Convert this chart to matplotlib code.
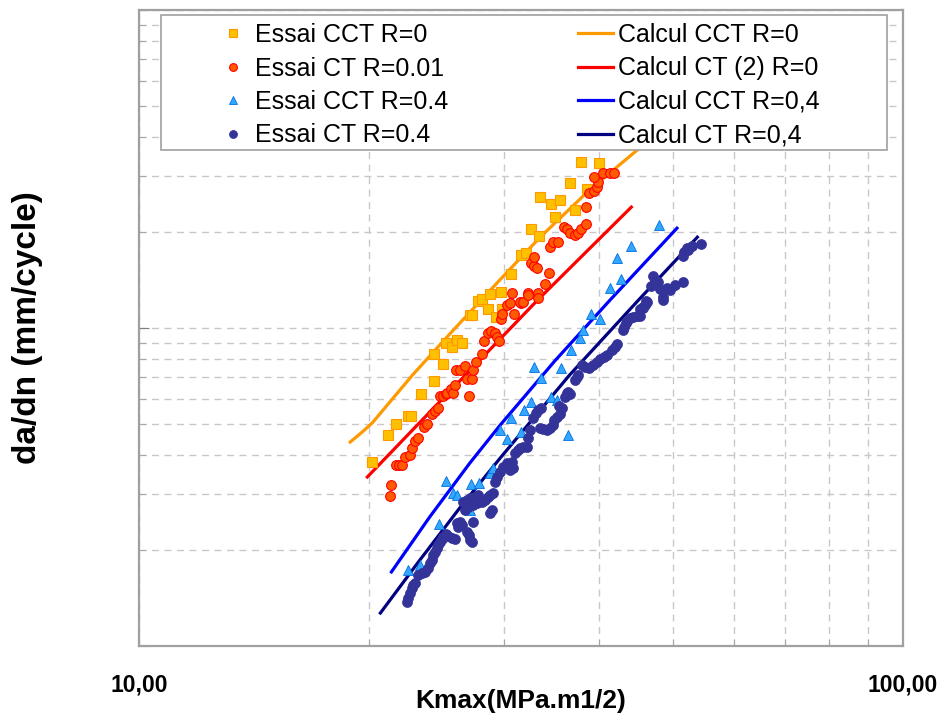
import matplotlib
matplotlib.use("Agg")
import matplotlib.pyplot as plt
from matplotlib.patches import Rectangle
from matplotlib.ticker import LogLocator, NullFormatter

plt.rcParams['font.family'] = ['Liberation Sans', 'DejaVu Sans']

# Essai CCT R=0 (Kmax MPa.m1/2, da/dn mm/cycle)
k_cct0 = [20.2, 21.2, 21.7, 22.5, 22.7, 23.4, 24.3, 25.0, 24.3, 25.2, 25.7, 26.1,
          26.5, 27.1, 27.3, 27.8, 28.1, 28.6, 28.8, 29.3, 29.8, 29.9, 30.7, 31.6,
          32.1, 32.6, 33.4, 33.5, 34.6, 35.0, 35.6, 36.7, 37.2, 37.9, 38.6, 40.0]
v_cct0 = [3.8e-5, 4.6e-5, 5.0e-5, 5.3e-5, 5.3e-5, 6.2e-5, 6.8e-5, 7.7e-5, 8.3e-5,
          9.0e-5, 8.7e-5, 9.2e-5, 9.0e-5, 1.1e-4, 1.1e-4, 1.22e-4, 1.23e-4, 1.15e-4,
          1.28e-4, 1.08e-4, 1.3e-4, 1.15e-4, 1.48e-4, 1.7e-4, 1.72e-4, 2.05e-4,
          1.94e-4, 2.58e-4, 2.45e-4, 2.24e-4, 2.53e-4, 2.86e-4, 2.35e-4, 3.33e-4,
          2.73e-4, 3.3e-4]

# Essai CT R=0.01
k_ct0 = [21.3, 21.4, 21.7, 21.9, 22.1, 22.3, 22.6, 22.8, 23.0, 23.2, 23.6, 23.8,
         24.2, 24.4, 24.6, 24.8, 25.0, 25.2, 25.3, 25.6, 25.8, 25.9, 27.0, 26.9,
         27.3, 26.0, 26.3, 26.7, 27.4, 27.6, 28.1, 28.3, 28.6, 28.9, 29.2, 29.4,
         29.6, 29.8, 29.9, 31.0, 30.3, 30.6, 31.6, 30.8, 31.5, 31.8, 32.3, 32.3,
         33.3, 33.3, 34.0, 34.4, 32.6, 32.9, 33.2, 32.9, 34.5, 34.8, 35.4, 36.0,
         36.3, 36.7, 37.2, 37.5, 37.9, 38.5, 38.5, 38.8, 39.4, 39.8, 39.9, 39.4,
         40.5, 41.4, 41.8]
v_ct0 = [2.96e-5, 3.21e-5, 3.71e-5, 3.71e-5, 3.71e-5, 3.94e-5, 4.0e-5, 4.2e-5,
         4.4e-5, 4.5e-5, 4.9e-5, 5.0e-5, 5.35e-5, 5.5e-5, 5.6e-5, 6.1e-5, 6.1e-5,
         6.2e-5, 6.25e-5, 6.45e-5, 6.25e-5, 6.6e-5, 6.1e-5, 6.9e-5, 6.9e-5, 7.4e-5,
         7.4e-5, 7.6e-5, 7.4e-5, 7.8e-5, 8.3e-5, 9.1e-5, 9.65e-5, 9.8e-5, 9.65e-5,
         9.4e-5, 9.1e-5, 1.07e-4, 1.11e-4, 1.11e-4, 1.18e-4, 1.2e-4, 1.2e-4,
         1.29e-4, 1.21e-4, 1.21e-4, 1.29e-4, 1.27e-4, 1.29e-4, 1.24e-4, 1.38e-4,
         1.49e-4, 1.6e-4, 1.57e-4, 1.54e-4, 1.67e-4, 1.8e-4, 1.87e-4, 1.87e-4,
         2.08e-4, 2.05e-4, 1.99e-4, 1.96e-4, 1.99e-4, 2.05e-4, 2.13e-4, 2.4e-4,
         2.66e-4, 2.7e-4, 2.77e-4, 2.87e-4, 2.98e-4, 3.07e-4, 3.07e-4, 3.07e-4]

# Essai CCT R=0.4
k_cct4 = [22.5, 23.3, 24.7, 25.2, 25.8, 26.1, 27.1, 27.2, 27.9, 28.8, 29.1, 29.7,
          30.3, 30.7, 31.6, 31.9, 32.6, 32.9, 33.6, 34.6, 35.2, 35.7, 36.4, 36.8,
          37.8, 38.1, 39.1, 40.1, 41.3, 42.2, 42.7, 44.1, 47.9]
v_cct4 = [1.73e-5, 1.8e-5, 2.42e-5, 3.3e-5, 3.03e-5, 2.98e-5, 2.68e-5, 3.23e-5,
          3.26e-5, 3.5e-5, 3.63e-5, 4.78e-5, 4.48e-5, 5.21e-5, 4.71e-5, 5.52e-5,
          5.85e-5, 7.54e-5, 6.97e-5, 6.07e-5, 5.94e-5, 7.48e-5, 4.61e-5, 8.53e-5,
          9.3e-5, 9.86e-5, 1.11e-4, 1.07e-4, 1.34e-4, 1.66e-4, 1.43e-4, 1.81e-4,
          2.11e-4]

# Essai CT R=0.4
k_ct4 = [22.42, 22.49, 22.63, 22.77, 22.83, 22.97, 23.18, 23.46, 23.67, 23.89,
         24.04, 24.18, 24.26, 24.40, 24.55, 24.63, 24.77, 24.92, 25.00, 25.22,
         25.38, 25.68, 25.92, 26.08, 26.32, 26.16, 26.48, 26.88, 27.05, 27.13,
         27.29, 27.37, 26.72, 26.96, 27.37, 27.70, 28.12, 28.38, 28.63, 28.80,
         29.07, 26.56, 26.88, 27.13, 27.54, 27.79, 28.80, 28.97, 29.24, 29.42,
         29.69, 29.96, 30.32, 30.60, 30.88, 30.78, 31.06, 31.35, 31.53, 31.82,
         32.20, 32.30, 32.49, 33.49, 33.80, 34.20, 34.51, 34.83, 34.93, 35.25,
         35.56, 35.78, 35.46, 32.79, 33.09, 33.29, 33.59, 36.10, 36.32, 36.43,
         36.65, 37.21, 37.43, 37.55, 38.00, 38.35, 38.82, 39.29, 39.77, 40.13,
         40.62, 40.99, 41.61, 41.98, 42.24, 43.01, 43.14, 43.40, 43.53, 43.93,
         44.33, 44.87, 45.28, 45.69, 45.97, 46.24, 48.54, 47.09, 46.81, 47.38,
         47.81, 48.10, 48.54, 49.13, 49.58, 50.33, 51.52, 46.10, 45.69, 45.28,
         51.52, 51.69, 52.15, 52.31, 52.94, 54.40]
v_ct4 = [1.375e-5, 1.415e-5, 1.468e-5, 1.522e-5, 1.555e-5, 1.578e-5, 1.672e-5,
         1.697e-5, 1.709e-5, 1.759e-5, 1.824e-5, 1.864e-5, 1.932e-5, 1.975e-5,
         2.033e-5, 2.077e-5, 2.123e-5, 2.169e-5, 2.201e-5, 2.250e-5, 2.217e-5,
         2.185e-5, 2.169e-5, 2.437e-5, 2.455e-5, 2.367e-5, 2.402e-5, 2.283e-5,
         2.234e-5, 2.154e-5, 2.123e-5, 2.455e-5, 2.677e-5, 2.736e-5, 2.776e-5,
         2.817e-5, 2.837e-5, 2.879e-5, 2.942e-5, 2.985e-5, 3.029e-5, 2.837e-5,
         2.879e-5, 2.921e-5, 2.942e-5, 2.985e-5, 2.620e-5, 2.677e-5, 3.280e-5,
         3.401e-5, 3.526e-5, 3.656e-5, 3.763e-5, 3.577e-5, 3.630e-5, 3.790e-5,
         4.045e-5, 4.134e-5, 4.194e-5, 4.225e-5, 4.225e-5, 4.508e-5, 4.777e-5,
         4.847e-5, 4.812e-5, 4.777e-5, 4.847e-5, 4.954e-5, 5.137e-5, 5.250e-5,
         5.365e-5, 5.603e-5, 5.685e-5, 5.212e-5, 5.404e-5, 5.522e-5, 5.603e-5,
         6.067e-5, 6.246e-5, 6.292e-5, 6.201e-5, 6.862e-5, 7.013e-5, 7.116e-5,
         7.647e-5, 7.538e-5, 7.483e-5, 7.647e-5, 7.816e-5, 7.988e-5, 8.105e-5,
         8.224e-5, 8.527e-5, 8.714e-5, 8.906e-5, 9.856e-5, 1.007e-4, 1.037e-4,
         1.052e-4, 1.075e-4, 1.083e-4, 1.091e-4, 1.091e-4, 1.156e-4, 1.181e-4,
         1.207e-4, 1.225e-4, 1.457e-4, 1.355e-4, 1.416e-4, 1.395e-4, 1.327e-4,
         1.252e-4, 1.336e-4, 1.317e-4, 1.365e-4, 1.395e-4, 1.216e-4, 1.164e-4,
         1.148e-4, 1.684e-4, 1.734e-4, 1.785e-4, 1.760e-4, 1.811e-4, 1.837e-4]

# Calculated curves
kc_cct0 = [18.9, 19.6, 20.2, 22.8, 25.8, 29.7, 33.5, 38.9, 44.9, 49.5]
vc_cct0 = [4.38e-5, 4.71e-5, 5.03e-5, 7.11e-5, 9.86e-5, 1.42e-4, 1.93e-4, 2.72e-4, 3.63e-4, 4.5e-4]
kc_ct0 = [19.9, 33.2, 44.1]
vc_ct0 = [3.4e-5, 1.22e-4, 2.4e-4]
kc_cct4 = [21.4, 24.0, 27.1, 29.7, 35.0, 41.3, 50.6]
vc_cct4 = [1.71e-5, 2.54e-5, 3.76e-5, 4.95e-5, 7.87e-5, 1.22e-4, 2.06e-4]
kc_ct4 = [20.7, 23.3, 26.3, 29.7, 36.6, 45.0, 53.8]
vc_ct4 = [1.27e-5, 1.86e-5, 2.72e-5, 3.9e-5, 7.11e-5, 1.22e-4, 1.93e-4]

fig = plt.figure(figsize=(9.44, 7.2), dpi=100, facecolor="white")
ax = fig.add_axes([139/944, 1-646/720, 764/944, 636/720])
ax.set_xscale('log')
ax.set_yscale('log')
ax.set_xlim(10, 100)
ax.set_ylim(1e-5, 1e-3)

# Calculated lines (below markers)
lw = 2.3
l1, = ax.plot(kc_cct0, vc_cct0, color='#FF9900', lw=lw, zorder=2, label='Calcul CCT R=0')
l2, = ax.plot(kc_ct0, vc_ct0, color='#FF0000', lw=lw, zorder=2, label='Calcul CT (2) R=0')
l3, = ax.plot(kc_cct4, vc_cct4, color='#0000FF', lw=lw, zorder=2, label='Calcul CCT R=0,4')
l4, = ax.plot(kc_ct4, vc_ct4, color='#000080', lw=lw, zorder=2, label='Calcul CT R=0,4')

# Test points
m1, = ax.plot(k_cct0, v_cct0, 's', ms=6.5, mfc='#FFC000', mec='#FF9900', mew=0.8,
              zorder=3, label='Essai CCT R=0')
m2, = ax.plot(k_ct0, v_ct0, 'o', ms=7, mfc='#FF5A00', mec='#FF0000', mew=0.8,
              zorder=3, label='Essai CT R=0.01')
m3, = ax.plot(k_cct4, v_cct4, '^', ms=7, mfc='#33A6FF', mec='#0070E0', mew=0.6,
              zorder=3, label='Essai CCT R=0.4')
m4, = ax.plot(k_ct4, v_ct4, 'o', ms=7.2, mfc='#333399', mec='#333399', mew=0.5,
              zorder=3, label='Essai CT R=0.4')

# Grid and ticks
ax.xaxis.set_major_locator(LogLocator(base=10))
ax.xaxis.set_minor_locator(LogLocator(base=10, subs=range(2, 10)))
ax.xaxis.set_minor_formatter(NullFormatter())
ax.yaxis.set_major_locator(LogLocator(base=10))
ax.yaxis.set_minor_locator(LogLocator(base=10, subs=range(2, 10)))
ax.yaxis.set_minor_formatter(NullFormatter())
ax.set_xticks([10, 100])
ax.set_xticklabels(['10,00', '100,00'], fontweight='bold', fontsize=16.5)
ax.set_yticklabels([])
ax.tick_params(axis='x', which='major', length=0, pad=20)
ax.tick_params(axis='y', which='major', direction='in', length=7, color='#808080', labelleft=False)
ax.tick_params(which='minor', direction='in', length=5, color='#a0a0a0')
ax.grid(which='both', color='#c8c8c8', linestyle=(0, (5, 4)), lw=1.0, zorder=1)

for s in ax.spines.values():
    s.set_color('#a0a0a0')
    s.set_linewidth(1.6)

ax.set_xlabel('Kmax(MPa.m1/2)', fontsize=19, fontweight='bold', va='center')
ax.xaxis.set_label_coords(0.5, (646-701)/636)
ax.set_ylabel('da/dn (mm/cycle)', fontsize=24, fontweight='bold', va='center')
ax.yaxis.set_label_coords((28-139)/764, 0.5)

# Legend box and legend
box = Rectangle((161/944, 1-150/720), (887-161)/944, 135/720, transform=fig.transFigure,
                facecolor='white', edgecolor='#a0a0a0', lw=1.2, zorder=4, clip_on=False)
ax.add_patch(box)
handles = [m1, m2, m3, m4, l1, l2, l3, l4]
leg = ax.legend(handles=handles, ncol=2, loc='upper left', bbox_to_anchor=(215/944, 1-23/720),
                bbox_transform=fig.transFigure, frameon=False, fontsize=18, handlelength=1.4,
                handletextpad=0.2, columnspacing=5.2, labelspacing=0.38, borderpad=0,
                borderaxespad=0, markerscale=0.8)
leg.set_zorder(5)

plt.savefig('out.png', dpi=100, facecolor='white')
